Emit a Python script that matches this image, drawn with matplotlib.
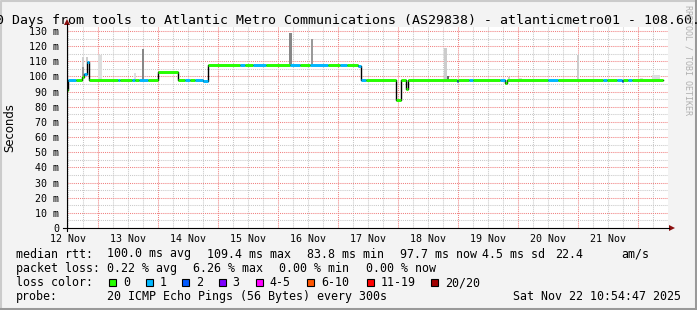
import matplotlib
matplotlib.use('Agg')
import matplotlib.pyplot as plt
from matplotlib.ticker import FixedLocator, FuncFormatter
from matplotlib.patches import Rectangle, Polygon

# time axis: hours since 12 Nov 00:00
t_start = 11.5
t_end = 251.9

# median rtt steps (start hour, ms, lost pings of 20)
step_hours = [11.5, 11.9, 15.1, 17.5, 18.3, 19.5, 20.3, 31.9, 32.7, 37.5,
              38.7, 40.3, 43.9, 47.9, 55.9, 58.7, 60.7, 62.7, 65.9, 67.9,
              80.7, 82.7, 85.9, 91.1, 100.7, 104.7, 108.7, 115.9, 120.7, 123.5,
              127.9, 129.1, 131.1, 143.1, 145.1, 147.1, 147.9, 167.5, 167.9, 172.3,
              173.9, 184.7, 186.7, 187.5, 203.9, 207.9, 225.9, 227.5, 231.5, 233.5,
              233.9, 235.9, 237.5]
step_median = [91.1, 97.5, 97.5, 99.9, 101.4, 109.8, 97.7, 97.7, 97.7, 97.7,
               97.7, 97.7, 97.7, 103.2, 97.7, 97.7, 97.7, 97.7, 97.0, 107.6,
               107.6, 107.6, 107.6, 107.6, 107.6, 107.6, 107.6, 107.6, 107.6, 107.6,
               106.7, 97.7, 97.7, 84.2, 97.7, 92.0, 97.7, 97.0, 97.7, 97.7,
               97.7, 97.7, 95.9, 97.7, 97.7, 97.7, 97.7, 97.7, 97.7, 97.0,
               97.7, 97.7, 97.7]
step_loss = [0, 1, 0, 0, 1, 1, 0, 1, 0, 1,
             0, 1, 0, 0, 0, 1, 0, 1, 1, 0,
             1, 0, 1, 0, 1, 0, 1, 0, 1, 0,
             1, 1, 0, 0, 0, 0, 0, 2, 0, 1,
             0, 1, 0, 0, 1, 0, 1, 0, 1, 2,
             0, 1, 0]
median_end = 249.9

# smoke (spread of the 20 pings)
smoke_from = [17.5, 17.5, 19.1, 23.9, 38.3, 41.5, 100.3, 109.1, 162.3, 163.5,
              187.9, 192.3, 215.5, 240.7, 245.5]
smoke_to = [18.3, 18.3, 19.9, 25.5, 39.1, 42.4, 101.5, 109.9, 163.5, 164.3,
            188.7, 193.5, 216.3, 241.9, 248.7]
smoke_low = [100.0, 106.5, 109.8, 97.7, 97.7, 97.7, 107.6, 107.6, 97.7, 97.7,
             97.7, 97.7, 97.7, 97.7, 97.7]
smoke_high = [106.5, 113.0, 113.0, 114.0, 102.0, 118.0, 128.9, 124.7, 118.6, 100.3,
              99.9, 99.0, 114.2, 99.0, 101.0]
smoke_shade = [0.4, 0.18, 0.2, 0.13, 0.13, 0.47, 0.47, 0.4, 0.2, 0.6,
               0.2, 0.13, 0.2, 0.13, 0.13]

day_names = ['12 Nov', '13 Nov', '14 Nov', '15 Nov', '16 Nov',
             '17 Nov', '18 Nov', '19 Nov', '20 Nov', '21 Nov']
y_ticks = list(range(0, 140, 10))

loss_labels = ['0', '1', '2', '3', '4-5', '6-10', '11-19', '20/20']
loss_colors = ['#26ff00', '#00b8ff', '#0059ff', '#7e00ff', '#ff00ff',
               '#ff5500', '#ff0000', '#a10000']

title = '10 Days from tools to Atlantic Metro Communications (AS29838) - atlanticmetro01 - 108.60.'
rtt_fields = ['median rtt:', '100.0 ms avg', '109.4 ms max', '83.8 ms min',
              '97.7 ms now', '4.5 ms sd', '22.4', 'am/s']
loss_fields = ['packet loss:', '0.22 % avg', '6.26 % max', '0.00 % min', '0.00 % now']
probe_fields = ['probe:', '20 ICMP Echo Pings (56 Bytes) every 300s',
                'Sat Nov 22 10:54:47 2025']


def loss_index(n):
    if n <= 3:
        return n
    if n <= 5:
        return 4
    if n <= 10:
        return 5
    if n <= 19:
        return 6
    return 7


W, H = 697, 310
bg = '#f3f3f3'
mono = 'DejaVu Sans Mono'
red_grid = '#f08080'
gray_grid = '#c8c8c8'

fig = plt.figure(figsize=(W / 100, H / 100), dpi=100)
fig.patch.set_facecolor(bg)

# plot canvas: x 67..668 px, y 27..228 px
ax = fig.add_axes([67 / W, (H - 228) / H, 601 / W, 201 / H])
ax.set_facecolor('white')
ax.set_xlim(t_start, t_end)
ax.set_ylim(0, 132.6)
for s in ax.spines.values():
    s.set_visible(False)

# grid
ax.xaxis.set_major_locator(FixedLocator([24 * d for d in range(1, 11)]))
ax.xaxis.set_minor_locator(FixedLocator([6 * k for k in range(2, 42) if k % 4 != 0]))
ax.yaxis.set_major_locator(FixedLocator(y_ticks))
ax.yaxis.set_minor_locator(FixedLocator([v + 5 for v in y_ticks[:-1]]))
ax.grid(which='major', color=red_grid, lw=0.75, ls=(0, (1, 1)))
ax.grid(which='minor', color=gray_grid, lw=0.75, ls=(0, (1, 1)))
ax.set_axisbelow(True)

ax.xaxis.set_major_formatter(FuncFormatter(lambda v, p: ''))
ax.xaxis.set_minor_formatter(FuncFormatter(
    lambda v, p: day_names[int(v // 24)] if int(round(v)) % 24 == 12 else ''))
ax.yaxis.set_major_formatter(FuncFormatter(lambda v, p: '0' if v == 0 else '%d m' % v))
ax.tick_params(which='both', length=0)
ax.tick_params(axis='x', which='minor', pad=4.5, labelsize=7.2, labelcolor='black')
ax.tick_params(axis='y', pad=5.5, labelsize=7.2)
for lab in ax.get_xticklabels(minor=True) + ax.get_yticklabels():
    lab.set_family(mono)

# smoke
ax.bar(smoke_from, [h - l for h, l in zip(smoke_high, smoke_low)], bottom=smoke_low,
       width=[b - a for a, b in zip(smoke_from, smoke_to)], align='edge',
       color=[str(round(1 - s, 2)) for s in smoke_shade], lw=0, zorder=2)

# median line: black steps with loss-coloured levels on top
edges = step_hours + [median_end]
ax.step(edges, step_median + [step_median[-1]], where='post', color='black', lw=1.0, zorder=3)
ax.hlines(step_median, step_hours, edges[1:],
          colors=[loss_colors[loss_index(n)] for n in step_loss], lw=2.1, zorder=4)

ax.set_ylabel('Seconds', fontsize=8.4, labelpad=0)
ax.yaxis.set_label_coords(-51 / 601, 0.5)

# overlay in pixel coordinates for frame, axes arrows and legend
ov = fig.add_axes([0, 0, 1, 1], zorder=5)
ov.set_xlim(0, W)
ov.set_ylim(H, 0)
ov.axis('off')

ov.plot([67, 67], [231, 24], color='black', lw=0.8)
ov.plot([63, 669], [228, 228], color='black', lw=0.8)
ov.add_patch(Polygon([[64, 25], [70, 25], [67, 19]], closed=True, color='#8b1010', lw=0))
ov.add_patch(Polygon([[669, 225], [669, 231], [675, 228]], closed=True, color='#8b1010', lw=0))

ov.text(-11.6, 24, title, family=mono, fontsize=9.5, ha='left', va='baseline')
ov.text(688, 5, 'RRDTOOL / TOBI OETIKER', family=mono, fontsize=6, color='#b0b0b0',
        rotation=270, ha='center', va='top')

fs = 8.35
for x, s in zip([16, 107, 207, 307, 400, 482, 555, 621], rtt_fields):
    ov.text(x, 257.5, s, family=mono, fontsize=fs, va='baseline')
for x, s in zip([16, 107, 193, 279, 366], loss_fields):
    ov.text(x, 271.8, s, family=mono, fontsize=fs, va='baseline')
ov.text(16, 286, 'loss color:', family=mono, fontsize=fs, va='baseline')
for x, s, c in zip([109, 145.5, 182, 218.5, 255.5, 307, 367, 431], loss_labels, loss_colors):
    ov.add_patch(Rectangle((x, 279), 7, 7, facecolor=c, edgecolor='black', lw=0.8))
    ov.text(x + 14, 286, s, family=mono, fontsize=fs, va='baseline')
for x, s in zip([16, 107, 513], probe_fields):
    ov.text(x, 300, s, family=mono, fontsize=fs, va='baseline')

# image frame
ov.plot([0.5, 0.5, W - 1], [H - 1, 0.5, 0.5], color='#cbcbcb', lw=1.5)
ov.plot([1, W - 1, W - 1], [H - 1.5, H - 1.5, 1], color='#999999', lw=2.2)

fig.savefig('out.png', dpi=100, facecolor=bg)
